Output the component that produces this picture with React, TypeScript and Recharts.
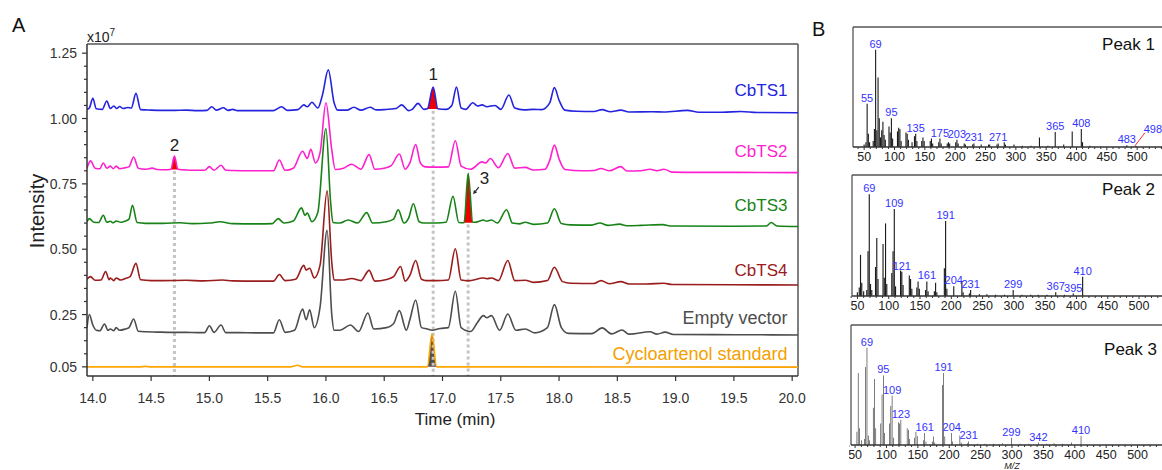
import React from 'react';
import {
  ComposedChart, Line, Area, XAxis, YAxis, ReferenceLine, ReferenceDot,
  BarChart, Bar, LabelList,
} from 'recharts';

type Pt = [number, number];

// ---------- Panel A: chromatograms (time in min, intensity x10^7) ----------
const cbts1: Pt[] = [
  [13.95, 1.035], [13.97, 1.04], [14.0, 1.077], [14.03, 1.037], [14.08, 1.035], [14.12, 1.067], [14.15, 1.038],
  [14.18, 1.048], [14.205, 1.038], [14.23, 1.046], [14.26, 1.038], [14.3, 1.042], [14.33, 1.04], [14.37, 1.096],
  [14.41, 1.034], [14.5, 1.032], [14.6, 1.031], [14.7, 1.031], [14.8, 1.032], [14.9, 1.03], [14.98, 1.031],
  [15.02, 1.045], [15.06, 1.032], [15.12, 1.041], [15.16, 1.031], [15.2, 1.035], [15.24, 1.03], [15.4, 1.03],
  [15.55, 1.03], [15.62, 1.045], [15.67, 1.031], [15.76, 1.034], [15.81, 1.052], [15.84, 1.045], [15.88, 1.062],
  [15.93, 1.04], [15.97, 1.09], [16.02, 1.186], [16.07, 1.06], [16.1, 1.032], [16.18, 1.032], [16.24, 1.043],
  [16.3, 1.032], [16.38, 1.043], [16.43, 1.033], [16.5, 1.034], [16.6, 1.038], [16.65, 1.052], [16.71, 1.03],
  [16.74, 1.035], [16.79, 1.058], [16.84, 1.035], [16.87, 1.037], [16.92, 1.12], [16.96, 1.037], [17.03, 1.035],
  [17.08, 1.05], [17.12, 1.12], [17.16, 1.04], [17.2, 1.035], [17.26, 1.06], [17.3, 1.048], [17.34, 1.052],
  [17.38, 1.045], [17.45, 1.05], [17.5, 1.035], [17.57, 1.09], [17.62, 1.04], [17.7, 1.033], [17.78, 1.035],
  [17.85, 1.034], [17.92, 1.06], [17.96, 1.118], [18.0, 1.07], [18.05, 1.032], [18.15, 1.028], [18.3, 1.027],
  [18.37, 1.034], [18.44, 1.026], [18.53, 1.032], [18.6, 1.025], [18.8, 1.026], [18.9, 1.025], [19.1, 1.031],
  [19.2, 1.024], [19.4, 1.024], [19.56, 1.027], [19.7, 1.023], [20.05, 1.022],
];
const cbts2: Pt[] = [
  [13.95, 0.81], [13.98, 0.838], [14.02, 0.81], [14.06, 0.808], [14.09, 0.83], [14.12, 0.81], [14.15, 0.818],
  [14.175, 0.808], [14.2, 0.818], [14.23, 0.808], [14.28, 0.812], [14.31, 0.815], [14.35, 0.853], [14.39, 0.81],
  [14.45, 0.806], [14.51, 0.81], [14.55, 0.805], [14.62, 0.804], [14.67, 0.806], [14.7, 0.856], [14.73, 0.806],
  [14.8, 0.803], [14.9, 0.802], [14.96, 0.802], [15.0, 0.816], [15.04, 0.802], [15.1, 0.821], [15.14, 0.802],
  [15.2, 0.801], [15.35, 0.8], [15.55, 0.8], [15.6, 0.841], [15.65, 0.802], [15.72, 0.81], [15.8, 0.875],
  [15.84, 0.847], [15.87, 0.882], [15.91, 0.83], [15.95, 0.87], [16.0, 1.06], [16.05, 0.88], [16.08, 0.805],
  [16.15, 0.81], [16.22, 0.825], [16.3, 0.806], [16.37, 0.862], [16.42, 0.806], [16.5, 0.81], [16.56, 0.82],
  [16.63, 0.864], [16.68, 0.806], [16.72, 0.83], [16.77, 0.9], [16.81, 0.83], [16.85, 0.815], [16.95, 0.814],
  [17.05, 0.815], [17.11, 0.915], [17.16, 0.818], [17.24, 0.806], [17.34, 0.834], [17.37, 0.83], [17.41, 0.847],
  [17.48, 0.812], [17.56, 0.866], [17.62, 0.81], [17.71, 0.813], [17.78, 0.803], [17.88, 0.806], [17.92, 0.84],
  [17.96, 0.898], [18.0, 0.845], [18.05, 0.805], [18.2, 0.8], [18.3, 0.801], [18.36, 0.809], [18.43, 0.8],
  [18.53, 0.816], [18.58, 0.799], [18.7, 0.8], [18.78, 0.806], [18.84, 0.8], [18.9, 0.806], [18.97, 0.795],
  [19.2, 0.794], [19.5, 0.794], [20.05, 0.793],
];
const cbts3: Pt[] = [
  [13.95, 0.605], [13.97, 0.617], [14.01, 0.603], [14.05, 0.602], [14.09, 0.63], [14.12, 0.603], [14.15, 0.607],
  [14.175, 0.601], [14.2, 0.608], [14.24, 0.603], [14.28, 0.608], [14.31, 0.615], [14.34, 0.668], [14.38, 0.602],
  [14.45, 0.599], [14.6, 0.599], [14.75, 0.601], [14.85, 0.598], [15.0, 0.6], [15.09, 0.605], [15.2, 0.598],
  [15.4, 0.597], [15.54, 0.598], [15.59, 0.617], [15.64, 0.6], [15.72, 0.608], [15.79, 0.658], [15.82, 0.63],
  [15.84, 0.638], [15.88, 0.605], [15.93, 0.64], [16.0, 0.962], [16.04, 0.68], [16.06, 0.602], [16.12, 0.6],
  [16.19, 0.612], [16.27, 0.6], [16.35, 0.64], [16.4, 0.6], [16.52, 0.605], [16.58, 0.615], [16.62, 0.651],
  [16.67, 0.6], [16.71, 0.62], [16.75, 0.674], [16.8, 0.605], [16.84, 0.6], [16.95, 0.6], [17.03, 0.603],
  [17.09, 0.702], [17.14, 0.602], [17.185, 0.601], [17.22, 0.79], [17.26, 0.603], [17.3, 0.605], [17.35, 0.612],
  [17.38, 0.607], [17.42, 0.612], [17.47, 0.6], [17.55, 0.651], [17.6, 0.6], [17.66, 0.597], [17.71, 0.603],
  [17.78, 0.595], [17.9, 0.6], [17.96, 0.655], [18.02, 0.598], [18.1, 0.593], [18.28, 0.592], [18.35, 0.6],
  [18.42, 0.591], [18.52, 0.596], [18.58, 0.59], [18.7, 0.591], [18.89, 0.594], [18.95, 0.589], [19.5, 0.588],
  [19.78, 0.589], [19.82, 0.602], [19.87, 0.589], [20.05, 0.587],
];
const cbts4: Pt[] = [
  [13.95, 0.385], [13.98, 0.395], [14.02, 0.381], [14.07, 0.382], [14.11, 0.415], [14.14, 0.383], [14.15, 0.39],
  [14.18, 0.38], [14.2, 0.39], [14.24, 0.382], [14.28, 0.388], [14.32, 0.395], [14.37, 0.446], [14.41, 0.383],
  [14.5, 0.38], [14.6, 0.38], [14.8, 0.381], [14.95, 0.379], [15.11, 0.382], [15.2, 0.379], [15.4, 0.378],
  [15.55, 0.378], [15.6, 0.403], [15.65, 0.38], [15.74, 0.385], [15.81, 0.438], [15.83, 0.42], [15.86, 0.427],
  [15.9, 0.39], [15.95, 0.44], [16.01, 0.723], [16.05, 0.45], [16.07, 0.382], [16.15, 0.382], [16.22, 0.388],
  [16.3, 0.38], [16.37, 0.419], [16.42, 0.378], [16.52, 0.384], [16.58, 0.395], [16.64, 0.434], [16.68, 0.378],
  [16.72, 0.4], [16.77, 0.457], [16.82, 0.385], [16.86, 0.38], [16.95, 0.38], [17.05, 0.382], [17.11, 0.502],
  [17.16, 0.382], [17.22, 0.379], [17.35, 0.39], [17.38, 0.387], [17.42, 0.39], [17.48, 0.38], [17.56, 0.457],
  [17.62, 0.38], [17.71, 0.381], [17.78, 0.373], [17.9, 0.38], [17.96, 0.431], [18.03, 0.376], [18.1, 0.37],
  [18.3, 0.369], [18.36, 0.38], [18.43, 0.368], [18.53, 0.376], [18.6, 0.367], [18.75, 0.367], [18.9, 0.37],
  [18.97, 0.365], [19.5, 0.364], [20.05, 0.363],
];
const emptyVector: Pt[] = [
  [13.95, 0.2], [13.97, 0.25], [14.0, 0.21], [14.03, 0.19], [14.06, 0.188], [14.1, 0.214], [14.13, 0.19],
  [14.15, 0.195], [14.18, 0.188], [14.2, 0.2], [14.23, 0.19], [14.28, 0.195], [14.31, 0.2], [14.35, 0.233],
  [14.39, 0.186], [14.45, 0.184], [14.55, 0.183], [14.68, 0.182], [14.8, 0.182], [14.9, 0.181], [14.96, 0.181],
  [15.0, 0.207], [15.04, 0.182], [15.1, 0.21], [15.14, 0.181], [15.25, 0.181], [15.4, 0.18], [15.55, 0.18],
  [15.6, 0.23], [15.65, 0.182], [15.73, 0.19], [15.8, 0.271], [15.83, 0.23], [15.86, 0.268], [15.9, 0.2],
  [15.95, 0.28], [16.01, 0.572], [16.05, 0.25], [16.07, 0.19], [16.12, 0.19], [16.21, 0.21], [16.28, 0.185],
  [16.36, 0.256], [16.41, 0.195], [16.52, 0.2], [16.58, 0.215], [16.63, 0.265], [16.69, 0.19], [16.72, 0.23],
  [16.77, 0.306], [16.82, 0.2], [16.87, 0.195], [16.91, 0.19], [16.98, 0.197], [17.05, 0.2], [17.11, 0.339],
  [17.16, 0.2], [17.24, 0.185], [17.3, 0.22], [17.35, 0.246], [17.38, 0.238], [17.42, 0.246], [17.49, 0.19],
  [17.56, 0.252], [17.63, 0.19], [17.71, 0.195], [17.79, 0.18], [17.9, 0.2], [17.96, 0.288], [18.02, 0.2],
  [18.08, 0.178], [18.28, 0.177], [18.37, 0.199], [18.45, 0.176], [18.54, 0.191], [18.6, 0.175], [18.78, 0.184],
  [18.84, 0.175], [18.91, 0.183], [18.98, 0.174], [19.5, 0.173], [20.05, 0.172],
];
const cycloartenolStd: Pt[] = [
  [13.95, 0.05], [14.4, 0.05], [14.45, 0.052], [14.5, 0.05], [15.7, 0.05], [15.757, 0.056], [15.8, 0.05],
  [16.87, 0.05], [16.91, 0.175], [16.95, 0.05], [20.05, 0.049],
];

const seriesNames = ['CbTS1', 'CbTS2', 'CbTS3', 'CbTS4', 'Empty vector', 'Cycloartenol standard'];
const seriesData = [cbts1, cbts2, cbts3, cbts4, emptyVector, cycloartenolStd];

// marked peaks: label, retention time, trace index, time window of the filled peak, baseline
const peakMarks = [
  { label: '1', t: 16.92, trace: 0, from: 16.87, to: 16.96, base: 1.036 },
  { label: '2', t: 14.70, trace: 1, from: 14.67, to: 14.73, base: 0.805 },
  { label: '3', t: 17.22, trace: 2, from: 17.185, to: 17.26, base: 0.601 },
];
const stdFill = { trace: 5, from: 16.87, to: 16.95, base: 0.05 };

const xTicks = [14.0, 14.5, 15.0, 15.5, 16.0, 16.5, 17.0, 17.5, 18.0, 18.5, 19.0, 19.5, 20.0];
const yMajorTicks = [0.05, 0.25, 0.5, 0.75, 1.0, 1.25];
const yMinorTicks = [0.1, 0.15, 0.2, 0.3, 0.35, 0.4, 0.45, 0.55, 0.6, 0.65, 0.7, 0.8, 0.85, 0.9, 0.95, 1.05, 1.1, 1.15, 1.2];

// ---------- Panel B: mass spectra (m/z, relative intensity %) ----------
const peak1Mz = [50, 53, 55, 57, 59, 65, 67, 69, 71, 73, 75, 77, 79, 81, 83, 85, 91, 93, 95, 97, 105, 107, 109, 111, 119, 121, 123, 129, 133, 135, 137, 145, 147, 149, 159, 161, 163, 173, 175, 177, 187, 189, 191, 201, 203, 205, 215, 217, 229, 231, 243, 255, 257, 269, 271, 281, 283, 297, 311, 325, 339, 353, 365, 379, 393, 408, 410, 422, 483, 498];
const peak1Int = [2, 4, 36, 11, 4, 5, 15, 81, 14, 58, 24, 8, 14, 21, 10, 6, 17, 12, 24, 7, 13, 16, 15, 5, 12, 11, 6, 4, 9, 11, 5, 5, 8, 5, 5, 7, 3, 4, 7, 3, 3, 4, 3, 4, 6, 3, 3, 2, 2, 3, 2, 2, 2, 2, 3, 4, 2, 2, 1, 1, 8, 1, 12.5, 2, 13, 15, 4, 1, 1.5, 1];
const peak1Labels = [55, 69, 95, 135, 175, 203, 231, 271, 365, 408, 483, 498];

const peak2Mz = [50, 53, 55, 57, 60, 65, 67, 69, 71, 73, 79, 81, 83, 91, 93, 95, 97, 105, 107, 109, 111, 119, 121, 123, 133, 135, 137, 145, 147, 149, 159, 161, 163, 173, 175, 177, 189, 191, 193, 204, 217, 219, 229, 231, 245, 257, 271, 285, 299, 313, 327, 339, 353, 367, 381, 395, 410];
const peak2Int = [3, 7, 34, 11, 4, 5, 37, 84, 10, 5, 24, 48, 14, 43, 15, 60, 10, 19, 37, 72, 8, 21, 20, 9, 17, 14, 6, 7, 12, 6, 5, 12, 4, 4, 11, 3, 23, 62, 6, 8, 12, 3, 2, 5, 1.5, 1.5, 1, 1, 5, 1, 1, 1, 1, 3, 1, 2, 16];
const peak2Labels = [69, 109, 121, 161, 191, 204, 231, 299, 367, 395, 410];

const peak3Mz = [53, 55, 57, 60, 65, 67, 69, 71, 73, 79, 81, 83, 91, 93, 95, 97, 105, 107, 109, 111, 119, 121, 123, 133, 135, 137, 145, 147, 149, 159, 161, 163, 173, 175, 177, 189, 191, 193, 204, 205, 217, 219, 229, 231, 245, 257, 271, 285, 299, 313, 327, 342, 355, 367, 381, 395, 410];
const peak3Int = [11, 60, 14, 4, 5, 65, 81, 8, 4, 31, 55, 14, 18, 42, 58, 10, 18, 32.5, 41, 6, 19, 18, 21, 14, 12.5, 5, 6, 11, 7.5, 4, 10, 3, 3, 7, 2, 50, 60, 7, 10, 3, 8, 2, 1.5, 3, 1, 1, 1, 1.5, 6, 1, 1, 2, 1, 1.5, 1, 2, 7.5];
const peak3Labels = [69, 95, 109, 123, 161, 191, 204, 231, 299, 342, 410];

const mzLabelTicks = [50, 100, 150, 200, 250, 300, 350, 400, 450, 500];

// ---------- styles ----------
const FONT = "Arial, 'Liberation Sans', Helvetica, sans-serif";
const colors = ['#2424e0', '#ff1fcf', '#178317', '#9a1c1c', '#4d4d4d', '#ffa500'];
const labelColors = ['#2424e0', '#ff1fcf', '#178317', '#9a1c1c', '#4d4d4d', '#f5a000'];
const labelSizes = [17, 17, 17, 17, 18, 18];
const labelPosV = [1.107, 0.872, 0.668, 0.418, 0.237, 0.099];
const X_DOMAIN: [number, number] = [13.95, 20.05];
const Y_DOMAIN: [number, number] = [0.015, 1.285];

const toRows = (pts: Pt[]) => pts.map(([t, v]) => ({ t, v }));
const segment = (pts: Pt[], from: number, to: number) => {
  let i0 = pts.findIndex((p) => p[0] >= from);
  let i1 = pts.length - 1;
  for (let i = pts.length - 1; i >= 0; i--) { if (pts[i][0] <= to) { i1 = i; break; } }
  i0 = Math.max(0, i0 - 1);
  i1 = Math.min(pts.length - 1, i1 + 1);
  return toRows(pts.slice(i0, i1 + 1));
};

const YTick = (props: any) => {
  const { x, y, payload } = props;
  const v = payload.value;
  const major = yMajorTicks.some((m) => Math.abs(m - v) < 1e-6);
  return (
    <g>
      <line x1={x - (major ? 5 : 3)} x2={x} y1={y} y2={y} stroke="#333" strokeWidth={1.2} />
      {major && (
        <text x={x - 10} y={y} textAnchor="end" dominantBaseline="central" fontSize={14} fill="#333" fontFamily={FONT}>
          {v.toFixed(2)}
        </text>
      )}
    </g>
  );
};

const TimeTick = (props: any) => {
  const { x, y, payload } = props;
  return (
    <g>
      <line x1={x} x2={x} y1={y} y2={y + 5} stroke="#333" strokeWidth={1.2} />
      <text x={x} y={y + 27} textAnchor="middle" fontSize={14} fill="#333" fontFamily={FONT}>
        {payload.value.toFixed(1)}
      </text>
    </g>
  );
};

const MzTick = (props: any) => {
  const { x, y, payload } = props;
  const v = payload.value;
  const major = mzLabelTicks.includes(v);
  return (
    <g>
      <line x1={x} x2={x} y1={y} y2={y + (major ? 3 : 2)} stroke="#333" strokeWidth={1} />
      {major && (
        <text x={x} y={y + 13.5} textAnchor="middle" fontSize={12.5} fill="#222" fontFamily={FONT}>{v}</text>
      )}
    </g>
  );
};

const MzLabel = (props: any) => {
  const { x, y, width, value } = props;
  if (!value) return null;
  const cx = Number(x) + Number(width) / 2;
  const cy = Number(y);
  if (value === '498') {
    return (
      <g>
        <line x1={cx - 1} y1={cy} x2={cx + 9} y2={cy - 13} stroke="#ff3030" strokeWidth={1} />
        <text x={cx + 17} y={cy - 13} textAnchor="middle" fontSize={11} fill="#3333ff" fontFamily={FONT}>{value}</text>
      </g>
    );
  }
  return (
    <text x={cx} y={cy - 2} textAnchor="middle" fontSize={11} fill="#3333ff" fontFamily={FONT}>{value}</text>
  );
};

function Spectrum({ mz, inten, labels, domain, left, top, width, plotH }: any) {
  const rows = mz.map((m: number, i: number) => ({ mz: m, int: inten[i], lab: labels.includes(m) ? String(m) : '' }));
  const minorTicks: number[] = [];
  for (let v = 40; v <= 550; v += 10) minorTicks.push(v);
  const height = plotH + 2 + 24;
  return (
    <div style={{ position: 'absolute', left: left - 2, top: top - 2, width, height }}>
      <BarChart width={width} height={height} data={rows} margin={{ top: 2, right: 0, bottom: 0, left: 2 }}>
        <XAxis type="number" dataKey="mz" domain={domain} allowDataOverflow ticks={minorTicks} interval={0}
          tick={MzTick} tickLine={false} tickSize={0} tickMargin={0} height={24}
          axisLine={{ stroke: '#333', strokeWidth: 1.3 }} />
        <YAxis type="number" domain={[0, 100]} allowDataOverflow hide />
        <ReferenceLine y={100} stroke="#555" strokeWidth={1.3} ifOverflow="visible" />
        <ReferenceLine x={domain[0]} stroke="#555" strokeWidth={1.3} ifOverflow="visible" />
        <ReferenceLine x={domain[1]} stroke="#555" strokeWidth={1.3} ifOverflow="visible" />
        <Bar dataKey="int" fill="#1a1a1a" barSize={1.6} isAnimationActive={false}>
          <LabelList dataKey="lab" content={MzLabel} />
        </Bar>
      </BarChart>
    </div>
  );
}

export default function App() {
  return (
    <div style={{ position: 'absolute', left: 0, top: 0, width: 1162, height: 470, overflow: 'hidden', background: '#fff', fontFamily: FONT }}>
      <div style={{ position: 'absolute', left: 0, top: 0 }}>
        <ComposedChart width={820} height={470} margin={{ top: 44, right: 22, left: 0, bottom: 0 }}>
          <XAxis type="number" dataKey="t" domain={X_DOMAIN} allowDataOverflow ticks={xTicks} interval={0}
            tick={TimeTick} tickLine={false} tickSize={0} tickMargin={0} height={94}
            axisLine={{ stroke: '#333', strokeWidth: 1.5 }} />
          <YAxis type="number" domain={Y_DOMAIN} allowDataOverflow ticks={[...yMajorTicks, ...yMinorTicks]} interval={0}
            tick={YTick} tickLine={false} tickSize={0} tickMargin={0} width={87}
            axisLine={{ stroke: '#333', strokeWidth: 1.5 }} />
          <ReferenceLine y={Y_DOMAIN[1]} stroke="#555" strokeWidth={1.5} ifOverflow="visible" />
          <ReferenceLine x={X_DOMAIN[1]} stroke="#555" strokeWidth={1.5} ifOverflow="visible" />
          {peakMarks.map((p) => (
            <Line key={'d' + p.label} data={[{ t: p.t, v: p.base - 0.006 }, { t: p.t, v: Y_DOMAIN[0] }]} dataKey="v"
              type="linear" stroke="#c4c4c4" strokeWidth={3} strokeDasharray="3 3" dot={false} activeDot={false}
              isAnimationActive={false} legendType="none" />
          ))}
          {peakMarks.map((p) => (
            <Area key={'f' + p.label} data={segment(seriesData[p.trace], p.from, p.to)} dataKey="v" type="monotone"
              baseValue={p.base} fill="#ee0000" fillOpacity={1} stroke="none" isAnimationActive={false} />
          ))}
          <Area data={segment(seriesData[stdFill.trace], stdFill.from, stdFill.to)} dataKey="v" type="monotone"
            baseValue={stdFill.base} fill="#505050" fillOpacity={1} stroke="none" isAnimationActive={false} />
          {seriesData.map((d, i) => (
            <Line key={seriesNames[i]} name={seriesNames[i]} data={toRows(d)} dataKey="v" type="monotone"
              stroke={colors[i]} strokeWidth={1.6} dot={false} activeDot={false} isAnimationActive={false} />
          ))}
          {seriesNames.map((n, i) => (
            <ReferenceDot key={'l' + n} x={19.96} y={labelPosV[i]} r={0} ifOverflow="visible"
              shape={(p: any) => (
                <text x={p.cx} y={p.cy} textAnchor="end" dominantBaseline="central" fontSize={labelSizes[i]}
                  fill={labelColors[i]} fontFamily={FONT}>{n}</text>
              )} />
          ))}
          <ReferenceDot x={16.92} y={1.167} r={0} ifOverflow="visible"
            shape={(p: any) => (
              <text x={p.cx} y={p.cy} textAnchor="middle" dominantBaseline="central" fontSize={17} fill="#222" fontFamily={FONT}>1</text>
            )} />
          <ReferenceDot x={14.70} y={0.898} r={0} ifOverflow="visible"
            shape={(p: any) => (
              <text x={p.cx} y={p.cy} textAnchor="middle" dominantBaseline="central" fontSize={17} fill="#222" fontFamily={FONT}>2</text>
            )} />
          <ReferenceDot x={17.36} y={0.77} r={0} ifOverflow="visible"
            shape={(p: any) => (
              <g>
                <text x={p.cx} y={p.cy} textAnchor="middle" dominantBaseline="central" fontSize={17} fill="#222" fontFamily={FONT}>3</text>
                <line x1={p.cx - 5.7} y1={p.cy + 8.4} x2={p.cx - 8.9} y2={p.cy + 12.5} stroke="#222" strokeWidth={1.2} />
                <polygon points={`${p.cx - 11.3},${p.cy + 15.7} ${p.cx - 7.3},${p.cy + 13.7} ${p.cx - 10.5},${p.cy + 11.3}`} fill="#222" />
              </g>
            )} />
        </ComposedChart>
      </div>

      <Spectrum mz={peak1Mz} inten={peak1Int} labels={peak1Labels} domain={[31.6, 575.5]} left={853} top={27} width={332} plotH={120} />
      <Spectrum mz={peak2Mz} inten={peak2Int} labels={peak2Labels} domain={[41.3, 568.7]} left={852} top={175} width={332} plotH={121} />
      <Spectrum mz={peak3Mz} inten={peak3Int} labels={peak3Labels} domain={[43.5, 569.2]} left={851} top={325} width={332} plotH={120} />

      <svg width={1162} height={470} style={{ position: 'absolute', left: 0, top: 0, pointerEvents: 'none' }}>
        <text x={12} y={32} fontSize={20} fill="#111" fontFamily={FONT}>A</text>
        <text x={812} y={36} fontSize={20} fill="#111" fontFamily={FONT}>B</text>
        <text x={87} y={42} fontSize={14} fill="#222" fontFamily={FONT}>x10<tspan dy={-6} fontSize={10}>7</tspan></text>
        <text transform="translate(37,211) rotate(-90)" textAnchor="middle" dominantBaseline="central" fontSize={20} fill="#222" fontFamily={FONT}>Intensity</text>
        <text x={455} y={425} textAnchor="middle" fontSize={17} fill="#222" fontFamily={FONT}>Time (min)</text>
        <text x={1155} y={50} textAnchor="end" fontSize={17} fill="#111" fontFamily={FONT}>Peak 1</text>
        <text x={1155} y={195} textAnchor="end" fontSize={17} fill="#111" fontFamily={FONT}>Peak 2</text>
        <text x={1157} y={355} textAnchor="end" fontSize={17} fill="#111" fontFamily={FONT}>Peak 3</text>
        <text x={1012} y={469} textAnchor="middle" fontSize={9} fontStyle="italic" fill="#222" fontFamily={FONT}>M/Z</text>
      </svg>
    </div>
  );
}
